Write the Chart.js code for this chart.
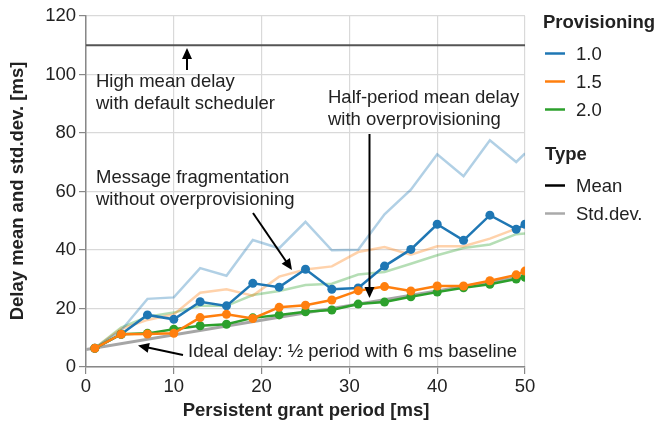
<!DOCTYPE html>
<html>
<head>
<meta charset="utf-8">
<script src="https://cdn.jsdelivr.net/npm/chart.js@4"></script>
<style>
  html, body { margin: 0; padding: 0; background: #fff; }
  #wrap { width: 656px; height: 424px; position: relative; }
</style>
</head>
<body>
<div id="wrap"><canvas id="delayChart"></canvas></div>
<script>
// Persistent grant period (x) in ms
const periods = [1, 4, 7, 10, 13, 16, 19, 22, 25, 28, 31, 34, 37, 40, 43, 46, 49, 50];

// Mean delay per provisioning factor
const mean10 = [6.4, 11.2, 17.8, 16.3, 22.3, 20.9, 28.6, 27.3, 33.4, 26.6, 27.0, 34.5, 40.2, 48.8, 43.3, 51.9, 47.1, 48.8];
const mean15 = [6.4, 11.2, 11.3, 11.5, 16.9, 18.0, 16.6, 20.4, 21.1, 22.9, 26.1, 27.5, 26.0, 27.7, 27.7, 29.5, 31.5, 32.8];
const mean20 = [6.4, 11.2, 11.5, 12.9, 14.1, 14.6, 16.8, 17.8, 18.9, 19.5, 21.5, 22.2, 24.0, 25.6, 27.1, 28.3, 30.1, 30.7];

// Std.dev. of delay per provisioning factor
const std10 = [6.4, 12.5, 23.3, 23.8, 33.8, 31.2, 43.4, 40.6, 49.6, 39.9, 40.1, 52.2, 60.6, 72.7, 65.2, 77.5, 70.1, 73.0];
const std15 = [6.4, 13.0, 16.1, 18.0, 25.4, 26.6, 24.4, 30.9, 33.3, 34.4, 39.3, 41.0, 38.4, 41.3, 41.3, 43.9, 47.3, 48.1];
const std20 = [6.4, 13.5, 17.2, 18.6, 20.9, 20.9, 24.6, 26.0, 28.0, 28.5, 31.6, 32.5, 35.3, 38.2, 40.7, 41.9, 45.4, 45.6];

// Reference lines
const idealX = [0, 50];
const idealY = [6, 31];
const defaultX = [0, 50];
const defaultY = [110, 110];

const xTicks = [0, 10, 20, 30, 40, 50];
const yTicks = [0, 20, 40, 60, 80, 100, 120];

const FONT = "'Liberation Sans', Arial, sans-serif";
const FS = 18.5;
const BLUE = '#1f77b4', ORANGE = '#ff7f0e', GREEN = '#2ca02c';

function pts(xs, ys) {
    return xs.map((x, i) => ({ x: x, y: ys[i] }));
}

function meanSet(ys, color) {
    return {
        data: pts(periods, ys),
        borderColor: color,
        backgroundColor: color,
        borderWidth: 2.5,
        pointRadius: 4.5,
        pointBorderWidth: 0,
        pointBackgroundColor: color,
        tension: 0
    };
}

function stdSet(ys, color) {
    return {
        data: pts(periods, ys),
        borderColor: color,
        borderWidth: 2.5,
        pointRadius: 0,
        tension: 0
    };
}

// arrows and notes + legend, drawn on top
const notesPlugin = {
    id: 'notes',
    afterDraw(chart) {
        const c = chart.ctx;
        c.save();
        c.fillStyle = '#222';
        c.font = FS + 'px ' + FONT;
        c.textBaseline = 'middle';
        c.textAlign = 'left';

        c.fillText('High mean delay', 96, 82);
        c.fillText('with default scheduler', 96, 104);
        c.fillText('Half-period mean delay', 328, 98);
        c.fillText('with overprovisioning', 328, 120);
        c.fillText('Message fragmentation', 96, 178);
        c.fillText('without overprovisioning', 96, 200);
        c.fillText('Ideal delay: \u00bd period with 6 ms baseline', 188, 352);

        function arrow(x1, y1, x2, y2) {
            const a = Math.atan2(y2 - y1, x2 - x1);
            const len = 11, w = 5;
            c.strokeStyle = '#000';
            c.fillStyle = '#000';
            c.lineWidth = 2;
            c.beginPath();
            c.moveTo(x1, y1);
            c.lineTo(x2 - Math.cos(a) * len * 0.8, y2 - Math.sin(a) * len * 0.8);
            c.stroke();
            c.beginPath();
            c.moveTo(x2, y2);
            c.lineTo(x2 - Math.cos(a) * len - Math.sin(a) * w, y2 - Math.sin(a) * len + Math.cos(a) * w);
            c.lineTo(x2 - Math.cos(a) * len + Math.sin(a) * w, y2 - Math.sin(a) * len - Math.cos(a) * w);
            c.closePath();
            c.fill();
        }
        arrow(187, 70, 187, 48);
        arrow(369.5, 134, 369.5, 298);
        arrow(253, 213, 292, 270);
        arrow(183, 355, 138, 345.5);

        // axis titles
        c.fillStyle = '#222';
        c.font = 'bold ' + FS + 'px ' + FONT;
        c.textAlign = 'center';
        c.fillText('Persistent grant period [ms]', 306, 411);
        c.save();
        c.translate(18, 191);
        c.rotate(-Math.PI / 2);
        c.fillText('Delay mean and std.dev. [ms]', 0, 0);
        c.restore();

        // legend
        c.textAlign = 'left';
        c.fillText('Provisioning', 543, 23);
        c.fillText('Type', 545, 155);
        c.font = FS + 'px ' + FONT;
        const items = [
            ['1.0', BLUE, 53.5], ['1.5', ORANGE, 81.5], ['2.0', GREEN, 109.5],
            ['Mean', '#000', 185.5], ['Std.dev.', '#aaa', 213.5]
        ];
        items.forEach(([label, col, y]) => {
            c.strokeStyle = col;
            c.lineWidth = 2.5;
            c.beginPath();
            c.moveTo(545, y);
            c.lineTo(565, y);
            c.stroke();
            c.fillStyle = '#222';
            c.fillText(label, 576, y + 1);
        });
        c.restore();
    }
};

new Chart(document.getElementById('delayChart'), {
    type: 'line',
    data: {
        datasets: [
            meanSet(mean15, ORANGE),
            meanSet(mean20, GREEN),
            meanSet(mean10, BLUE),
            { data: pts(idealX, idealY), borderColor: '#a6a6a6', borderWidth: 3, pointRadius: 0 },
            { data: pts(defaultX, defaultY), borderColor: '#555', borderWidth: 2, pointRadius: 0 },
            stdSet(std10, 'rgba(31,119,180,0.35)'),
            stdSet(std15, 'rgba(255,127,14,0.35)'),
            stdSet(std20, 'rgba(44,160,44,0.35)')
        ]
    },
    options: {
        responsive: true,
        maintainAspectRatio: false,
        animation: false,
        layout: { padding: { left: 0, top: 16, right: 131, bottom: 0 } },
        plugins: { legend: { display: false }, tooltip: { enabled: false } },
        scales: {
            x: {
                type: 'linear',
                min: 0,
                max: 50,
                afterBuildTicks: s => { s.ticks = xTicks.map(v => ({ value: v })); },
                afterFit: s => { s.height = 57; },
                ticks: { color: '#222', font: { family: FONT, size: FS }, padding: 2, maxRotation: 0 },
                grid: { color: '#d9d9d9', lineWidth: 1.2, tickLength: 7, tickColor: '#888' },
                border: { color: '#888', width: 1.5 }
            },
            y: {
                min: 0,
                max: 120,
                afterBuildTicks: s => { s.ticks = yTicks.map(v => ({ value: v })); },
                afterFit: s => { s.width = 86; },
                ticks: { color: '#222', font: { family: FONT, size: FS }, padding: 3 },
                grid: { color: '#d9d9d9', lineWidth: 1.2, tickLength: 7, tickColor: '#888' },
                border: { color: '#888', width: 1.5 }
            }
        }
    },
    plugins: [notesPlugin]
});
</script>
</body>
</html>
